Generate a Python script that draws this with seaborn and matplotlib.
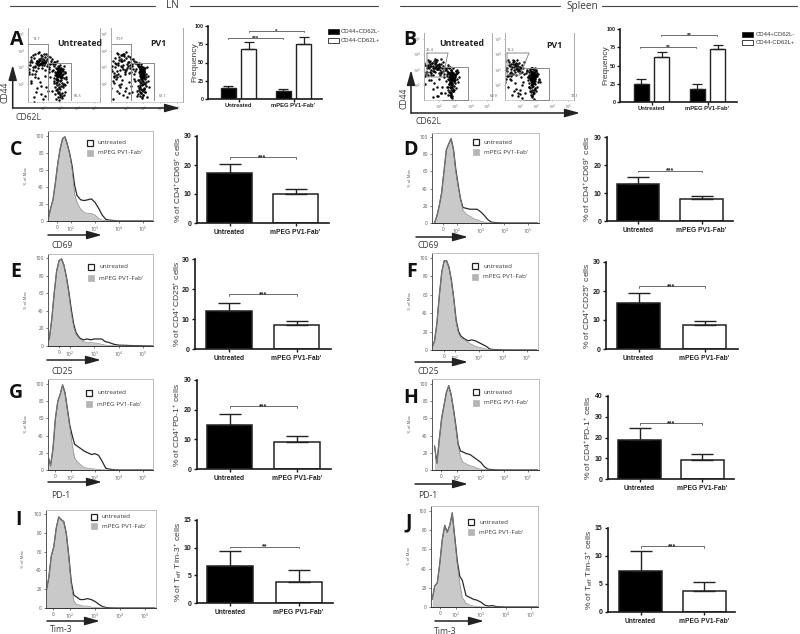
import matplotlib
matplotlib.use("Agg")
import matplotlib.pyplot as plt
from matplotlib.patches import Rectangle
import numpy as np
import pandas as pd
import seaborn as sns

sns.set_style("white")
plt.rcParams['font.family'] = ['Open Sans', 'DejaVu Sans']
plt.rcParams['mathtext.default'] = 'regular'

# ---------- data ----------
GROUPS = ["Untreated", "mPEG PV1-Fab'"]
KINDS = ["CD44+CD62L-", "CD44-CD62L+"]

freq_lin_neg = [15, 11]
freq_lin_pos = [69, 76]
freq_lin_neg_hi = [18, 13.5]
freq_lin_pos_hi = [78, 85]
freq_spl_neg = [25, 18]
freq_spl_pos = [62, 72]
freq_spl_neg_hi = [31, 25]
freq_spl_pos_hi = [69, 78]

val_C = [17.3, 10.0]; hi_C = [20.2, 11.8]
val_D = [13.2, 7.9];  hi_D = [15.7, 9.0]
val_E = [12.7, 8.0];  hi_E = [15.5, 9.3]
val_F = [15.8, 8.4];  hi_F = [19.2, 9.8]
val_G = [14.7, 9.0];  hi_G = [18.5, 11.2]
val_H = [19.0, 9.2];  hi_H = [24.4, 12.2]
val_I = [6.6, 3.8];   hi_I = [9.4, 5.9]
val_J = [7.4, 3.7];   hi_J = [10.9, 5.4]

# histogram channel grid (log-like units; 2 = 10^2, 3 = 10^3 ...)
U = [1.05,1.15,1.25,1.35,1.45,1.55,1.65,1.75,1.85,1.95,2.05,2.15,2.25,2.4,2.55,2.7,2.85,3.0,3.15,3.3,3.45,3.6,3.8,4.0,4.5,5.4]
fill_C = [2,15,25,45,68,85,97,99,90,78,60,32,22,14,10,9,9,7,3,1,.5,.3,.2,0,0,0]
open_C = [2,15,25,45,68,85,97,99,90,79,64,42,30,25,24,25,26,22,15,7,2,1,.5,0,0,0]
fill_D = [0,8,20,35,60,85,92,98,85,60,42,28,15,10,8,5,4,2,1,.5,.2,0,0,0,0,0]
open_D = [0,8,20,35,60,85,92,98,86,62,44,28,18,17,16,16,16,13,9,4,1,.5,.2,0,0,0]
fill_E = [3,8,30,60,85,97,99,92,78,60,38,22,13,8,5,4,4,3.5,3,2,1,.5,.3,.1,0,0]
open_E = [3,8,30,60,85,97,99,92,79,62,42,25,15,9,7,8,7,8,8,8,5,4,2,1,.5,0]
fill_F = [3,10,30,60,85,97,97,90,75,55,30,18,13,11,8,6,4,3,2,1,.5,.2,0,0,0,0]
open_F = [3,10,30,60,85,97,97,90,76,56,32,20,15,12,10,11,10,8,6,4,1,.5,.3,.1,0,0]
fill_G = [15,5,25,60,80,88,99,90,70,50,30,14,10,6,3,2,1.5,1,.5,.2,0,0,0,0,0,0]
open_G = [15,5,25,60,80,88,99,90,71,52,40,30,28,25,22,20,18,19,17,10,2,1,.3,0,0,0]
fill_H = [28,8,35,60,75,90,98,88,70,50,28,15,9,7,5,4,2,1,.5,.2,0,0,0,0,0,0]
open_H = [28,8,35,60,75,90,98,88,71,52,30,22,21,19,18,15,12,9,4,1,.5,.2,0,0,0,0]
fill_I = [18,32,55,65,85,97,94,92,80,55,25,8,4,3,2,2,1,.5,.3,.1,0,0,0,0,0,0]
open_I = [18,32,55,65,85,97,94,92,80,56,28,14,12,9,9,10,9,7,4,1.5,.5,.2,0,0,0,0]
fill_J = [8,22,25,45,70,85,78,85,98,72,45,25,10,4,2,1,.5,.2,0,0,0,0,0,0,0,0]
open_J = [8,22,25,45,70,85,78,85,98,73,48,32,28,12,10,8,7,5,2,1,1.5,.5,.2,0,0,0]

# dot plots (log-like units)
dots_AU_x = [1.31,1.52,1.74,1.93,2.11,1.42,1.63,1.85,2.04,2.22,
             1.58,1.71,1.82,1.96,2.07,1.66,1.77,1.88,1.99,2.14,
             1.25,1.47,1.68,1.91,2.29,1.36,1.55,1.79,2.01,2.36,
             1.62,1.73,1.84,1.94,2.03,1.69,1.81,1.92,2.09,2.18,
             1.18,1.39,1.6,1.86,2.25,2.41,2.33,2.47,1.97,2.12,
             2.62,2.71,2.78,2.84,2.89,2.93,2.97,3.02,3.07,3.13,
             2.74,2.81,2.86,2.91,2.95,2.99,3.04,3.09,3.16,3.23,
             2.67,2.76,2.83,2.88,2.92,2.96,3.0,3.05,3.11,3.19,
             2.79,2.85,2.9,2.94,2.98,3.01,3.06,2.82,2.87,2.92,
             2.88,2.94,3.0,3.08,2.8,2.9,2.96,3.03,2.84,2.98,
             2.72,2.81,2.91,3.01,3.12,3.21,3.28,2.66,2.95,3.05,
             2.75,2.85,2.95,3.05,2.82,2.92,3.02,2.88,2.98,3.1,
             2.9,3.0,2.86,2.97,3.07,2.8,2.7,3.15,1.5,1.8,
             1.3,1.9,2.2,2.4,1.6,2.1,1.2,1.45,3.35,0.95,
             1.05,1.22,1.44,1.7,2.3,2.5,2.62,2.4,1.15,1.35,
             1.55,1.75,1.95,2.15,2.35,2.55,1.1,1.28,1.5,2.05,
             2.45,2.58,2.7,2.82,3.3,3.38,3.44,3.26,3.18,3.32,
             2.55,2.68,2.88,3.1,3.22,3.3,2.6,2.78,2.92,3.02,
             3.12,2.64,2.74,2.86,2.96,3.06,3.16,2.7,2.84,2.98,
             1.0,1.3,1.65,1.88,2.1,2.28,0.9,1.48,1.72,2.02]
dots_AU_y = [3.42,3.11,3.52,3.28,3.62,3.05,3.37,3.18,3.47,3.08,
             3.27,3.33,3.22,3.41,3.14,3.19,3.36,3.29,3.24,3.32,
             3.15,3.56,2.98,3.58,3.2,3.34,3.02,3.12,3.5,3.05,
             3.38,3.16,3.44,3.26,3.35,3.3,3.21,3.17,3.28,3.39,
             2.9,2.84,2.78,3.72,3.48,3.18,2.92,3.36,2.94,2.86,
             3.06,2.72,2.95,2.48,2.81,2.62,3.02,2.74,2.88,2.55,
             2.66,2.42,2.78,2.58,2.9,2.7,2.46,2.84,2.62,3.1,
             2.36,2.52,2.88,2.64,2.74,2.54,2.82,2.6,2.4,2.76,
             2.28,2.7,2.5,2.82,2.66,2.58,2.72,2.12,2.62,2.46,
             2.76,2.56,2.68,2.38,2.6,2.68,2.78,2.52,1.95,2.44,
             1.85,1.72,2.22,2.16,2.08,2.34,2.65,2.18,1.55,1.9,
             2.05,2.32,2.02,2.26,1.62,1.8,1.7,1.45,1.4,1.28,
             2.98,3.16,3.1,2.92,2.96,2.25,2.55,2.9,2.4,2.1,
             2.2,1.9,1.85,2.45,1.55,1.3,2.6,0.95,2.3,3.05,
             3.5,3.3,3.75,3.85,3.7,3.5,3.35,3.6,2.7,2.6,
             3.8,3.9,3.68,3.78,2.75,2.8,3.15,3.62,2.62,3.82,
             3.25,3.2,3.3,3.38,2.7,2.4,2.1,2.0,1.8,1.5,
             1.6,1.38,1.22,1.15,1.32,1.95,2.85,1.1,1.02,1.25,
             1.48,2.05,1.65,1.52,1.76,2.92,1.92,3.2,2.28,1.35,
             2.2,2.05,1.75,1.4,2.5,1.6,1.5,1.2,2.35,1.1]
dots_AP_x = [1.12,1.33,1.55,1.78,2.02,2.24,1.24,1.46,1.69,1.92,
             2.13,1.38,1.6,1.83,2.07,2.31,1.5,1.72,1.95,2.18,
             1.28,1.52,1.76,1.99,2.21,1.42,1.65,1.88,2.1,2.35,
             1.18,1.44,1.7,1.97,2.28,1.58,1.81,2.05,2.42,2.5,
             1.08,1.35,1.62,1.86,2.15,2.55,2.38,2.46,1.48,1.74,
             2.75,2.82,2.88,2.93,2.98,3.03,3.08,2.78,2.85,2.9,
             2.95,3.0,3.05,3.12,2.8,2.87,2.92,2.97,3.02,3.07,
             2.84,2.89,2.94,2.99,3.04,2.86,2.91,2.96,3.01,3.06,
             2.83,2.88,2.93,2.98,3.03,2.9,2.95,3.0,2.86,2.92,
             2.97,3.02,2.88,2.94,2.99,3.05,2.9,2.96,3.0,2.94,
             2.72,2.8,2.86,2.92,2.98,3.04,3.1,3.16,2.68,2.78,
             2.84,2.9,2.96,3.02,3.08,2.74,2.82,2.88,2.94,3.0,
             2.62,2.76,2.84,2.92,3.0,3.1,3.2,2.9,2.96,3.06,
             1.4,1.7,2.0,2.3,1.6,1.95,2.2,1.3,2.5,3.3,
             1.0,1.15,1.3,1.52,1.8,2.1,2.4,2.58,1.05,1.22,
             1.45,1.68,1.9,2.25,2.48,2.65,1.32,1.56,1.76,2.02,
             2.6,2.68,2.75,3.15,3.22,3.3,3.38,2.66,2.72,3.18,
             2.7,2.82,2.94,3.06,3.14,2.78,2.88,3.0,3.1,3.24,
             2.8,2.9,3.0,2.85,2.95,3.05,2.92,3.02,2.87,2.97,
             1.1,1.45,1.8,2.05,2.35,0.95,1.25,1.62,2.15,2.45]
dots_AP_y = [2.92,3.24,2.62,3.38,2.84,3.16,3.4,2.76,3.1,2.6,
             3.3,3.02,3.46,2.9,3.22,2.7,3.14,3.52,2.82,3.34,
             2.68,3.28,3.04,3.58,2.96,3.18,2.86,3.42,3.06,3.2,
             3.08,2.56,3.36,2.74,3.48,3.62,3.12,2.94,2.88,3.26,
             3.0,3.54,2.48,3.68,2.66,2.78,3.1,2.58,2.42,3.72,
             3.06,2.92,3.18,2.84,3.02,2.96,2.78,2.7,2.88,3.1,
             2.62,2.86,2.72,2.94,2.58,2.8,2.98,2.66,2.9,2.54,
             2.76,2.5,2.84,2.6,2.74,2.44,2.68,2.92,2.52,2.82,
             2.64,2.38,2.56,2.78,2.46,2.7,2.34,2.62,3.0,2.58,
             2.42,2.66,2.3,2.48,2.74,2.36,2.82,2.54,2.4,2.66,
             2.22,2.12,2.04,1.94,2.18,2.08,2.28,2.14,1.88,1.78,
             1.84,1.72,1.66,1.98,1.76,1.62,1.52,1.44,2.32,1.36,
             1.28,2.26,1.92,2.16,1.58,2.02,2.42,1.48,1.22,1.68,
             2.3,2.0,1.75,1.9,1.45,1.6,2.15,2.4,2.2,2.5,
             3.3,2.8,2.5,3.78,3.82,3.66,3.5,3.3,2.4,2.2,
             3.85,3.72,3.8,3.6,3.4,3.2,2.05,1.95,2.25,3.9,
             2.9,3.1,3.25,2.6,3.0,2.2,1.85,1.6,1.4,1.9,
             3.2,1.3,1.18,1.7,1.55,3.05,2.85,1.35,1.5,1.25,
             2.46,2.56,2.66,2.76,2.52,2.62,2.72,2.5,2.6,2.7,
             1.75,1.6,1.35,1.2,1.5,2.1,1.1,1.85,1.45,2.3]
dots_BU_x = [1.22,1.41,1.63,1.84,2.05,1.3,1.52,1.73,1.94,2.14,
             1.48,1.6,1.72,1.83,1.96,1.55,1.68,1.79,1.9,2.02,
             1.18,1.38,1.66,1.87,2.2,1.34,1.58,1.76,2.0,2.27,
             1.62,1.74,1.86,1.98,2.08,1.44,1.7,1.92,2.12,2.34,
             1.14,1.26,1.5,1.8,2.24,2.4,1.36,1.46,1.97,2.1,
             2.42,2.52,2.6,2.66,2.72,2.78,2.84,2.9,2.96,3.04,
             2.5,2.58,2.64,2.7,2.76,2.82,2.88,2.94,3.02,3.12,
             2.56,2.62,2.68,2.74,2.8,2.86,2.92,2.98,2.6,2.66,
             2.7,2.76,2.82,2.88,2.72,2.78,2.84,2.9,2.68,2.74,
             2.8,2.86,2.7,2.76,2.82,2.78,2.84,2.74,2.8,2.86,
             2.6,2.68,2.76,2.84,2.92,3.0,2.56,2.72,2.8,2.88,
             2.64,2.74,2.82,2.9,2.7,2.78,2.86,2.76,2.84,2.96,
             3.08,3.18,1.5,1.7,1.9,2.1,2.3,1.3,2.0,1.6,
             1.08,1.2,1.42,1.62,1.88,2.12,2.32,2.46,1.12,1.32,
             1.52,1.76,2.04,2.28,2.5,2.58,3.1,3.2,3.24,3.06,
             2.52,2.62,2.94,3.0,3.14,2.54,2.66,2.78,2.92,3.04,
             2.58,2.7,2.82,2.94,2.64,2.76,2.88,2.98,1.25,1.85,
             2.15,2.42,1.6,1.4,2.2,1.15,2.36,1.95,2.55,2.68]
dots_BU_y = [3.08,3.4,2.94,3.5,3.18,3.3,2.98,3.42,3.12,3.36,
             3.22,3.08,3.34,3.16,3.28,3.44,3.14,3.24,3.02,3.32,
             2.88,3.52,2.9,3.04,3.08,3.2,3.46,2.86,3.38,3.22,
             3.26,3.1,3.3,3.2,2.98,2.84,3.56,3.06,2.8,3.14,
             3.3,2.82,2.78,3.62,2.92,3.0,3.1,3.26,2.76,2.86,
             3.06,2.92,3.14,2.78,3.0,2.66,2.86,3.08,2.72,2.94,
             2.6,2.84,2.52,2.74,2.96,2.56,2.8,2.48,2.64,2.98,
             2.4,2.7,2.5,2.86,2.62,2.44,2.72,2.54,2.3,2.58,
             2.36,2.66,2.46,2.76,2.26,2.52,2.38,2.62,2.18,2.44,
             2.7,2.32,2.56,2.2,2.48,2.42,2.12,2.6,2.3,2.5,
             2.04,1.9,1.78,2.08,2.24,2.16,1.86,1.7,1.98,1.62,
             1.54,1.46,1.88,1.72,1.38,1.3,1.58,1.22,1.12,2.4,
             2.72,2.84,2.3,2.1,1.85,1.5,2.55,2.65,2.4,1.2,
             3.45,2.72,3.58,2.68,3.66,3.7,2.7,3.12,2.6,3.62,
             2.66,3.72,2.62,3.5,2.74,3.2,2.4,2.2,2.5,2.9,
             1.9,2.05,2.25,2.6,2.8,1.7,1.55,1.42,1.65,1.8,
             1.35,2.15,1.28,1.95,2.75,2.0,1.6,2.35,3.22,1.3,
             1.45,2.25,1.75,2.3,1.9,2.05,1.5,1.3,3.28,3.15]
dots_BP_x = [1.12,1.3,1.5,1.68,1.86,2.02,1.2,1.4,1.58,1.76,
             1.94,1.34,1.52,1.7,1.88,2.06,1.44,1.62,1.8,1.98,
             1.16,1.36,1.56,1.74,1.92,2.1,1.26,1.46,1.66,1.84,
             2.0,1.1,1.42,1.6,1.78,2.14,1.54,1.72,1.9,2.2,
             2.46,2.54,2.6,2.66,2.72,2.78,2.84,2.9,2.96,3.02,
             2.5,2.58,2.64,2.7,2.76,2.82,2.88,2.94,3.0,3.08,
             2.62,2.68,2.74,2.8,2.86,2.92,2.98,2.66,2.72,2.78,
             2.84,2.9,2.96,2.7,2.76,2.82,2.88,2.94,2.72,2.78,
             2.84,2.9,2.74,2.8,2.86,2.92,2.76,2.82,2.88,2.78,
             2.84,2.8,2.86,2.74,2.82,2.9,2.76,2.84,2.7,2.88,
             2.56,2.64,2.72,2.8,2.88,2.96,3.04,3.12,2.6,2.7,
             2.78,2.86,2.94,3.0,2.66,2.76,2.84,2.92,2.74,2.82,
             2.9,1.4,1.7,2.0,1.5,1.9,2.2,1.2,3.2,2.1,
             1.05,1.22,1.46,1.64,1.82,2.08,2.24,1.14,1.32,1.58,
             2.4,2.48,2.52,2.56,3.12,3.18,3.24,3.06,2.44,2.54,
             2.6,2.68,2.76,2.84,2.92,3.0,2.62,2.7,2.78,2.86,
             2.94,2.66,2.74,2.82,2.9,2.98,2.72,2.8,2.88,2.96,
             1.28,1.6,1.85,2.15,2.3,1.08,1.45,1.72,2.0,2.28]
dots_BP_y = [3.0,3.3,2.72,3.4,2.9,3.2,3.1,2.8,3.36,3.02,
             3.44,2.62,3.16,2.86,3.26,3.08,3.34,2.96,3.12,2.76,
             2.92,3.22,3.5,2.68,3.04,3.3,2.56,3.06,3.28,3.38,
             2.94,3.14,2.88,3.18,3.24,2.84,2.7,3.46,3.0,3.1,
             2.9,2.68,3.04,2.78,3.1,2.6,2.88,2.96,2.72,3.0,
             2.5,2.82,2.56,2.92,2.66,2.8,2.54,2.86,2.62,2.76,
             2.44,2.7,2.86,2.58,2.74,2.48,2.64,2.36,2.52,2.78,
             2.42,2.68,2.5,2.3,2.6,2.44,2.72,2.38,2.66,2.34,
             2.54,2.28,2.46,2.62,2.36,2.56,2.2,2.48,2.32,2.14,
             2.42,2.26,2.58,2.08,2.16,2.4,1.98,2.24,2.02,2.12,
             1.9,1.78,1.84,1.92,1.7,2.06,1.88,2.2,1.62,1.54,
             1.68,1.46,1.74,1.6,1.38,1.28,1.52,1.8,1.2,1.4,
             1.1,2.4,2.1,1.7,1.35,1.5,2.2,2.6,2.3,2.0,
             3.55,3.62,2.6,3.58,3.64,2.5,3.5,2.4,3.52,3.6,
             2.8,2.5,2.3,2.1,2.7,2.4,2.2,2.6,3.0,1.9,
             3.0,3.1,3.12,3.06,3.14,2.92,2.36,2.24,2.18,2.1,
             2.28,2.44,2.34,2.26,2.5,2.58,2.66,2.3,2.42,2.56,
             1.9,1.6,1.3,1.15,1.5,2.2,2.35,1.75,1.4,2.7]

dot_sets = {
    "AU": (dots_AU_x, dots_AU_y), "AP": (dots_AP_x, dots_AP_y),
    "BU": (dots_BU_x, dots_BU_y), "BP": (dots_BP_x, dots_BP_y),
}

# ---------- layout helpers ----------
fig = plt.figure(figsize=(8.0, 6.34), dpi=100, facecolor="white")
W, H = 800, 634

def axp(x0, x1, ytop, ybot, **kw):
    return fig.add_axes([x0 / W, 1 - ybot / H, (x1 - x0) / W, (ybot - ytop) / H], **kw)

TXT = "#3a3a3a"
GATE = "#8a8a8a"
ov = axp(0, W, 0, H, zorder=20)
ov.set_xlim(0, W); ov.set_ylim(H, 0); ov.axis("off"); ov.patch.set_alpha(0)

def arrow(x0, y0, x1, y1, lw=1.1):
    ov.annotate("", xy=(x1, y1), xytext=(x0, y0),
                arrowprops=dict(arrowstyle="-|>,head_length=0.9,head_width=0.25", lw=lw, color="#222222",
                                shrinkA=0, shrinkB=0, mutation_scale=10))

def bar_style(ax, yticks, ylabel, ylab_x, label_size, xt_size, yt_size):
    sns.despine(ax=ax)
    for s in ("left", "bottom"):
        ax.spines[s].set_linewidth(1.2); ax.spines[s].set_color("#1a1a1a")
    ax.set_yticks(yticks)
    ax.tick_params(axis="both", which="major", left=True, bottom=True, length=2.5, width=1, color="#1a1a1a", pad=1.5)
    for t in ax.get_yticklabels():
        t.set_fontfamily("Liberation Sans"); t.set_fontweight("bold"); t.set_fontsize(yt_size); t.set_color("#222222")
    for t in ax.get_xticklabels():
        t.set_fontfamily("Liberation Sans"); t.set_fontweight("bold"); t.set_fontsize(xt_size); t.set_color("#222222")
    ax.set_xlabel(""); ax.set_ylabel("")
    ymid = ax.get_position()
    ov.text(ylab_x, (1 - (ymid.y0 + ymid.y1) / 2) * H, ylabel, rotation=90, ha="center", va="center",
            fontsize=label_size, color=TXT, family=["Liberation Sans"])

def bracket(ax, xa, xb, y, stars, drop, fs=5):
    ax.plot([xa, xa, xb, xb], [y - drop, y, y, y - drop], color="#555555", lw=0.6, clip_on=False)
    ax.text((xa + xb) / 2, y - drop * 0.3, stars, ha="center", va="center", fontsize=fs, color="#222222",
            family=["Liberation Sans"], fontweight="bold")

# ---------- two-bar panels ----------
bar_panels = [
    (val_C, hi_C, 30, [0,10,20,30], "% of CD4$^{+}$CD69$^{+}$ cells", "***", 22.8, (197,329,136,223), (229.5,295.5,45), 178),
    (val_D, hi_D, 30, [0,10,20,30], "% of CD4$^{+}$CD69$^{+}$ cells", "***", 18.0, (607,733,137,221), (638,701.5,42.5), 587),
    (val_E, hi_E, 30, [0,10,20,30], "% of CD4$^{+}$CD25$^{+}$ cells", "***", 18.3, (195,331,259,349), (229,296.5,45.5), 177),
    (val_F, hi_F, 30, [0,10,20,30], "% of CD4$^{+}$CD25$^{+}$ cells", "***", 21.7, (606,738,262,349), (638.5,704.5,43.5), 587),
    (val_G, hi_G, 30, [0,10,20,30], "% of CD4$^{+}$PD-1$^{+}$ cells", "***", 21.2, (197,331,380,469), (229.5,297,45.5), 177),
    (val_H, hi_H, 40, [0,10,20,30,40], "% of CD4$^{+}$PD-1$^{+}$ cells", "***", 27.0, (608,734,396,479), (639.5,702,43), 588),
    (val_I, hi_I, 15, [0,5,10,15], "% of T$_{eff}$ Tim-3$^{+}$ cells", "**", 10.2, (197,333,520,603), (230,298.5,46), 178),
    (val_J, hi_J, 15, [0,5,10,15], "% of T$_{eff}$ Tim-3$^{+}$ cells", "***", 11.8, (608,735,528,612), (640.5,704,43), 589),
]
for vals, his, ymax, ticks, lab, stars, by, (l, r, t, b), (c0, c1, bw), lx in bar_panels:
    ax = axp(l, r, t, b)
    ax.patch.set_alpha(0)
    df = pd.DataFrame({"g": GROUPS, "v": vals})
    sp = c1 - c0
    sns.barplot(data=df, x="g", y="v", hue="g", palette=["black", "white"], width=bw / sp,
                edgecolor="#222222", linewidth=1.1, legend=False, ax=ax, errorbar=None)
    ax.errorbar([0, 1], vals, yerr=[[0, 0], np.subtract(his, vals)], fmt="none", ecolor="#222222",
                elinewidth=1, capsize=8, capthick=1)
    ax.set_xlim((l - c0) / sp, (r - c0) / sp)
    ax.set_ylim(0, ymax)
    bar_style(ax, ticks, lab, lx, 6.1, 4.8, 5)
    bracket(ax, 0, 1, by, stars, ymax * 0.02)

# ---------- grouped frequency panels ----------
freq_panels = [
    (freq_lin_neg, freq_lin_pos, freq_lin_neg_hi, freq_lin_pos_hi, (208,322,26,99), (238.5,293.5), 195,
     [(-.19,.81,83.5,"***"), (.19,1.19,93.6,"*")], (328,340,29,38)),
    (freq_spl_neg, freq_spl_pos, freq_spl_neg_hi, freq_spl_pos_hi, (620,737,29,102), (651.5,707.5), 606,
     [(-.2,.8,75.8,"**"), (.17,1.17,92,"**")], (742,755,32,40)),
]
for neg, pos, nhi, phi, (l, r, t, b), (c0, c1), lx, brs, (ls, ltx, ly1, ly2) in freq_panels:
    ax = axp(l, r, t, b)
    ax.patch.set_alpha(0)
    sp = c1 - c0
    df = pd.DataFrame({"g": GROUPS * 2, "k": [KINDS[0]] * 2 + [KINDS[1]] * 2, "v": neg + pos})
    sns.barplot(data=df, x="g", y="v", hue="k", palette=["black", "white"], width=0.727, gap=0.285,
                edgecolor="#222222", linewidth=1, legend=False, ax=ax, errorbar=None)
    off = 0.182
    ax.errorbar(np.array([0, 1]) - off, neg, yerr=[[0, 0], np.subtract(nhi, neg)], fmt="none",
                ecolor="#222222", elinewidth=.9, capsize=3.4, capthick=.9)
    ax.errorbar(np.array([0, 1]) + off, pos, yerr=[[0, 0], np.subtract(phi, pos)], fmt="none",
                ecolor="#222222", elinewidth=.9, capsize=3.4, capthick=.9)
    ax.set_xlim((l - c0) / sp, (r - c0) / sp)
    ax.set_ylim(0, 100)
    bar_style(ax, [0, 25, 50, 75, 100], "Frequency", lx, 6, 4.2, 3.9)
    ax.tick_params(axis="both", length=2, pad=1)
    for xa, xb, y, s in brs:
        bracket(ax, xa, xb, y, s, 1.5, fs=4.5)
    for y0, fc, name in ((ly1, "black", KINDS[0]), (ly2, "white", KINDS[1])):
        ov.add_patch(Rectangle((ls, y0), 11, 4.5, fc=fc, ec="#222222", lw=.6))
        ov.text(ltx + 0.5, y0 + 2.4, name, fontsize=4.3, va="center", color=TXT, family=["Liberation Sans"])

# ---------- histograms ----------
hist_panels = [
    (fill_C, open_C, (48,153,131), 136, 221, (57,71,96,120,143), (87,143,153)),
    (fill_D, open_D, (432,539,133), 137, 223, (443,457,483,506,528), (473,142,152)),
    (fill_E, open_E, (48,153,254), 258, 346, (59,70,96,120,143), (88,267,278)),
    (fill_F, open_F, (432,538,253), 258, 350, (444,455,480,504,527), (472,266,277)),
    (fill_G, open_G, (48,153,379), 384, 470, (55,71,97,120,143), (86,393,404)),
    (fill_H, open_H, (432,539,379), 384, 470, (441,457,482,505,528), (473,392,403)),
    (fill_I, open_I, (46,156,510), 514, 608, (53,70,97,121,145), (91,517,526)),
    (fill_J, open_J, (431,538,506), 511, 607, (440,456,481,506,531), (468,522,532)),
]
for fl, op, (l, r, t), y100, y0, tk, (lgx, lg1, lg2) in hist_panels:
    ax = axp(l, r, t, y0)
    scale = (tk[4] - tk[1]) / 3.0
    to_u = lambda px: 2 + (px - tk[1]) / scale
    ax.fill_between(U, fl, 0, color="#c9c9c9", lw=0)
    sns.lineplot(x=U, y=op, ax=ax, color="#2a2a2a", lw=0.9, errorbar=None)
    sns.lineplot(x=U, y=fl, ax=ax, color="#8f8f8f", lw=0.5, errorbar=None)
    ax.set_xlim(to_u(l), to_u(r))
    ax.set_ylim(0, 100 * (y0 - t) / (y0 - y100))
    ax.set_xticks([to_u(tk[0]), 2, 3, 4, 5])
    ax.set_xticklabels(["0", "10$^2$", "10$^3$", "10$^4$", "10$^5$"])
    ax.set_yticks([0, 20, 40, 60, 80, 100])
    ax.tick_params(axis="both", length=1.5, width=.5, color="#444444", labelsize=3.4, labelcolor="#555555", pad=1.5,
                   left=True, bottom=True)
    for s, c in (("left", "#555555"), ("bottom", "#333333"), ("top", "#bdbdbd"), ("right", "#bdbdbd")):
        ax.spines[s].set_color(c); ax.spines[s].set_linewidth(.7)
    ax.set_xlabel(""); ax.set_ylabel("")
    ax.text(-0.21, 0.5, "% of Max", rotation=90, transform=ax.transAxes, ha="center", va="center",
            fontsize=3, color="#555555")
    ov.add_patch(Rectangle((lgx, lg1 - 3), 5.5, 5.5, fc="white", ec="#222222", lw=.9))
    ov.add_patch(Rectangle((lgx, lg2 - 3), 5.5, 5.5, fc="#b5b5b5", ec="#b5b5b5", lw=.5))
    ov.text(lgx + 11, lg1, "untreated", fontsize=4.5, va="center", color=TXT)
    ov.text(lgx + 11, lg2, "mPEG PV1-Fab'", fontsize=4.5, va="center", color=TXT)

channel_labels = [
    ("CD69", 48,102,235, 51,245), ("CD25", 47,101,360, 51,372), ("PD-1", 48,102,482, 51,495), ("Tim-3", 47,100,621, 50,630),
    ("CD69", 416,468,237, 418,245), ("CD25", 415,468,362, 418,372), ("PD-1", 415,468,484, 418,496), ("Tim-3", 435,484,621, 434,631),
]
for name, x0, x1, ya, xt, yt in channel_labels:
    arrow(x0, ya, x1, ya)
    ov.text(xt, yt, name, fontsize=6.2, va="center", ha="left", color=TXT)

# ---------- dot plots ----------
dot_panels = [
    ("AU", (28,100,28,102), (43,94), (84,34), [[(28,44),(48,44),(48,100)], [(48,63),(71,63),(71,100)]], (33,"18.7"), (60,"65.5")),
    ("AP", (111,183,28,102), (126,177), (84,34), [[(112,44),(131,44),(131,100)], [(131,63),(154,63),(154,100)]], (116,"7.97"), (145,"62.1")),
    ("BU", (424,492,33,100), (439,487), (85,39), [[(427,53),(448,53),(443,77),(427,77),(427,53)], [(442,67),(468,67),(468,100),(442,100)]], (426,"25.4"), (476,"60.9")),
    ("BP", (505,574,33,100), (520,568), (85,39), [[(507,53),(529,53),(520,75),(507,75),(507,53)], [(523,68),(549,68),(549,100),(523,100)]], (507,"19.2"), (557,"72.1")),
]
for key, (l, r, t, b), (x2, x5), (y2, y5), gates, tl1, tl2 in dot_panels:
    ax = axp(l, r, t, b)
    ax.patch.set_alpha(0)
    sx = (x5 - x2) / 3.0
    sy = (y2 - y5) / 3.0
    X, Y = dot_sets[key]
    sns.scatterplot(x=X, y=Y, ax=ax, s=3.2, color="black", linewidth=0, alpha=0.95)
    ax.set_xlim(2 + (l - x2) / sx, 2 + (r - x2) / sx)
    ax.set_ylim(2 + (y2 - b) / sy, 2 + (y2 - t) / sy)
    ax.set_xticks([2, 3, 4, 5]); ax.set_xticklabels(["10$^2$", "10$^3$", "10$^4$", "10$^5$"])
    ax.set_yticks([2, 3, 4, 5]); ax.set_yticklabels(["10$^2$", "10$^3$", "10$^4$", "10$^5$"])
    ax.tick_params(axis="both", length=1, width=.4, labelsize=2.8, labelcolor="#666666", pad=1, left=True, bottom=True, color="#777777")
    for s in ("left", "right"):
        ax.spines[s].set_color("#aaaaaa"); ax.spines[s].set_linewidth(.7)
    ax.spines["top"].set_visible(False)
    ax.spines["bottom"].set_color("#bbbbbb"); ax.spines["bottom"].set_linewidth(.6); ax.spines["bottom"].set_linestyle(":")
    for g in gates:
        ov.plot([p[0] for p in g], [p[1] for p in g], color=GATE, lw=.7)
    ov.text(tl1[0], 39 if key[0] == "A" else 50, tl1[1], fontsize=2.8, color="#555555", va="center")
    ov.text(tl2[0] + 14, 96, tl2[1], fontsize=2.8, color="#555555", va="center")

for x, y, s, ha in ((102, 44, "Untreated", "right"), (158, 44, "PV1", "center"), (461.5, 43, "Untreated", "center"), (554.5, 45, "PV1", "center")):
    ov.text(x, y, s, fontsize=6.3, fontweight="bold", ha=ha, va="center", color="#222222", zorder=30)

arrow(12.7, 108, 12.7, 65); arrow(12.7, 108, 180, 108)
arrow(411, 113, 411, 70); arrow(411, 113, 580, 113)
ov.text(5, 92, "CD44", rotation=90, fontsize=6.2, ha="center", va="center", color=TXT)
ov.text(15, 117, "CD62L", fontsize=6.2, ha="left", va="center", color=TXT)
ov.text(404, 98, "CD44", rotation=90, fontsize=6.2, ha="center", va="center", color=TXT)
ov.text(415, 121, "CD62L", fontsize=6.2, ha="left", va="center", color=TXT)

# ---------- header and panel letters ----------
for a, b in ((10, 155), (190, 378), (400, 560), (602, 797)):
    ov.plot([a, b], [6, 6], color="#444444", lw=.8)
ov.text(172, 6, "LN", fontsize=7.2, ha="center", va="center", color=TXT)
ov.text(582, 6, "Spleen", fontsize=7.2, ha="center", va="center", color=TXT)

letters = [("A",10,40),("B",403,40),("C",10,150),("D",403,150),("E",10,272),("F",406,272),("G",9,393),("H",403,398),("I",15,520),("J",405,522)]
for s, x, y in letters:
    ov.text(x, y, s, fontsize=14, fontweight="bold", ha="left", va="center", color="#111111")

fig.savefig("out.png", dpi=100, facecolor="white")
